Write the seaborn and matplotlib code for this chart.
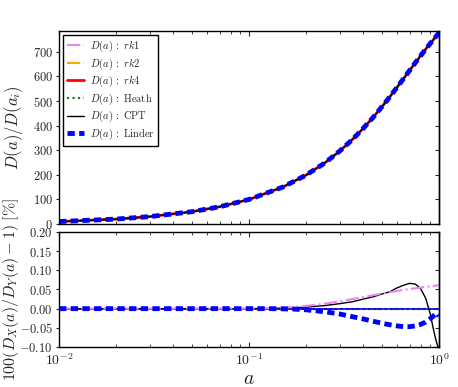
import numpy as np
import pandas as pd
import matplotlib
matplotlib.use("Agg")
import matplotlib.pyplot as plt
import matplotlib.ticker as mticker
import seaborn as sns

# growth factor D(a)/D(a_i), all methods overlap in the top panel
a_top = [0.01, 0.02, 0.03, 0.05, 0.07, 0.1, 0.15, 0.2, 0.25, 0.3, 0.35, 0.4,
         0.45, 0.5, 0.55, 0.6, 0.65, 0.7, 0.75, 0.8, 0.85, 0.9, 0.95, 1.0]
D_top = [10, 20, 30, 50, 70, 99.9, 149.7, 199.3, 248, 296.7, 343.9, 389.9,
         434, 476.8, 517, 555.4, 591, 624.7, 656, 684.7, 711, 735, 757, 778]

# relative differences in percent (bottom panel)
a_bot = [0.01, 0.05, 0.1, 0.13, 0.17, 0.2, 0.25, 0.3, 0.35, 0.4, 0.45, 0.5,
         0.55, 0.6, 0.65, 0.7, 0.75, 0.8, 0.85, 0.9, 0.93, 0.96, 0.98, 1.0]
diff_rk1 = [0, 0, 0, 0.001, 0.004, 0.007, 0.013, 0.019, 0.025, 0.03, 0.035, 0.039,
            0.043, 0.046, 0.049, 0.051, 0.053, 0.055, 0.057, 0.058, 0.059, 0.06, 0.061, 0.061]
diff_cpt = [0, 0, 0, 0.0005, 0.002, 0.004, 0.008, 0.013, 0.018, 0.025, 0.031, 0.038,
            0.044, 0.054, 0.061, 0.066, 0.064, 0.052, 0.027, -0.015, -0.05, -0.08, -0.095, -0.11]
diff_linder = [0, 0, 0, 0, -0.001, -0.003, -0.008, -0.014, -0.021, -0.027, -0.033, -0.038,
               -0.042, -0.045, -0.047, -0.047, -0.045, -0.041, -0.035, -0.026, -0.02, -0.014, -0.012, -0.02]

labels = [r"$D(a)\,:\ rk1$", r"$D(a)\,:\ rk2$", r"$D(a)\,:\ rk4$",
          r"$D(a)\,:\ \mathrm{Heath}$", r"$D(a)\,:\ \mathrm{CPT}$", r"$D(a)\,:\ \mathrm{Linder}$"]

sns.set_style("ticks")
plt.rcParams["font.family"] = "serif"
plt.rcParams["font.serif"] = ["cmr10"]
plt.rcParams["mathtext.fontset"] = "cm"
plt.rcParams["axes.formatter.use_mathtext"] = True
plt.rcParams["axes.unicode_minus"] = False

fig = plt.figure(figsize=(4.58, 3.87), dpi=100)
ax1 = fig.add_axes([0.129, 0.4212, 0.8297, 0.4987])
ax2 = fig.add_axes([0.129, 0.1034, 0.8297, 0.2972])

# top panel
styles = [
    dict(color="violet", linestyle="-.", lw=1.5),
    dict(color="orange", linestyle="-.", lw=1.5),
    dict(color="red", linestyle="-", lw=2),
    dict(color="green", linestyle=":", lw=1.5),
    dict(color="black", linestyle="-", lw=1),
    dict(color="blue", linestyle="--", lw=3.5),
]
for lab, st in zip(labels, styles):
    sns.lineplot(x=a_top, y=D_top, ax=ax1, label=lab, **st)
ax1.lines[-1].set_dashes((1.5, 0.9))

# bottom panel
sns.lineplot(x=a_bot, y=np.zeros(len(a_bot)), ax=ax2, color="orange", linestyle="-.", lw=1.5)
sns.lineplot(x=a_bot, y=np.zeros(len(a_bot)), ax=ax2, color="green", linestyle=":", lw=1.5)
ax2.axhline(0, color="blue", lw=1.2)
sns.lineplot(x=a_bot, y=diff_cpt, ax=ax2, color="black", lw=1)
sns.lineplot(x=a_bot, y=diff_rk1, ax=ax2, color="violet", linestyle="-.", lw=1.5)
sns.lineplot(x=a_bot, y=diff_linder, ax=ax2, color="blue", linestyle="--", lw=3.5)
ax2.lines[-1].set_dashes((1.5, 0.9))

for ax in (ax1, ax2):
    ax.set_xscale("log")
    ax.set_xlim(0.01, 1)
    for sp in ax.spines.values():
        sp.set_linewidth(1.0)
        sp.set_color("black")
    ax.tick_params(axis="x", which="major", direction="in", top=True, bottom=True, length=3.5, labelsize=10)
    ax.tick_params(axis="x", which="minor", direction="in", top=True, bottom=True, length=2)
    ax.tick_params(axis="y", which="both", direction="out", left=True, right=False, length=2.5,
                   labelsize=9, pad=2)

ax1.set_ylim(0, 785)
ax1.set_yticks(range(0, 800, 100))
ax1.yaxis.set_major_formatter(mticker.FuncFormatter(lambda v, p: f"${v:.0f}$"))
ax1.tick_params(axis="x", which="both", labelbottom=False)

ax2.set_ylim(-0.10, 0.20)
ax2.set_yticks(np.arange(-0.10, 0.201, 0.05))
ax2.yaxis.set_major_formatter(mticker.FuncFormatter(lambda v, p: f"${v:.2f}$"))

for ax, ticks in ((ax1, list(range(0, 800, 100))), (ax2, list(np.arange(-0.10, 0.201, 0.05)))):
    sec = ax.secondary_yaxis("right")
    sec.set_yticks(ticks)
    sec.tick_params(direction="in", length=3, labelright=False)
    sec.spines["right"].set_linewidth(1.0)

ax1.set_ylabel(r"$D(a)/D(a_i)$", fontsize=12)
ax2.set_ylabel(r"$100(D_X(a)/D_Y(a)-1)\ [\%]$", fontsize=11.5)
ax1.yaxis.set_label_coords(-0.09, 0.5)
ax2.yaxis.set_label_coords(-0.1, 0.5)
ax2.set_xlabel(r"$a$", fontsize=14, labelpad=2)

leg = ax1.legend(loc="upper left", fontsize=7.5, handlelength=1.6, labelspacing=0.22,
                 borderaxespad=0.4, borderpad=0.35, handletextpad=0.6,
                 fancybox=False, framealpha=1)
leg.get_frame().set_edgecolor("black")
leg.get_frame().set_linewidth(1.0)

fig.savefig("out.png", dpi=100)
